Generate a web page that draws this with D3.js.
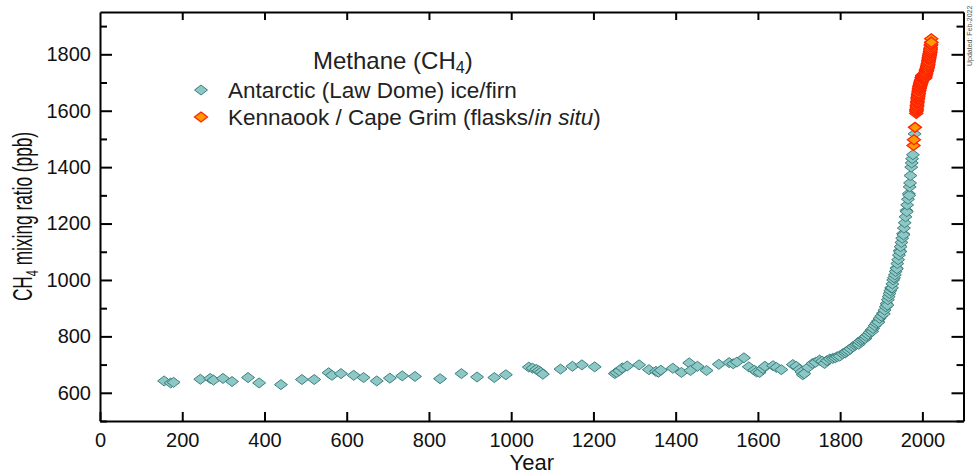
<!DOCTYPE html>
<html>
<head>
<meta charset="utf-8">
<script src="https://cdn.jsdelivr.net/npm/d3@7"></script>
<style>
  html, body { margin: 0; padding: 0; background: #fff; }
  svg { display: block; font-family: Arial, "Liberation Sans", Helvetica, sans-serif; }
</style>
</head>
<body>
<svg id="chart" width="974" height="475"></svg>
<script>
// ---- Data ----
const iceYears = [156,172,179,244,268,276,299,321,360,387,440,491,521,556,564,586,617,641,673,705,735,766,827,879,917,959,987,
  1043,1052,1061,1067,1072,1077,1120,1149,1172,1203,1252,1256,1263,1270,1282,1311,1335,1352,1358,1364,1393,1414,1433,1436,1453,1475,
  1505,1530,1540,1549,1566,1578,1591,1597,1604,1612,1617,1637,1645,1657,1685,1693,1701,1706,1709,1713,1722,1733,1740,1750,1756,1762,
  1768,1775,1782,1788,1793,1799,1806,1812,1815,1820,1825,1831,1836,1840,1843,1847,1851,1855,1859,1863,1868,1872,1876,1880,1884,1888,
  1892,1896,1900,1904,1908,1911,1913,1916,1918,1920,1922,1924,1927,1929,1931,1933,1935,1937,1939,1941,1943,1945,1947,1949,1951,1953,
  1955,1957,1959,1961,1963,1965,1967,1969,1970,1971,1973,1974,1975,1977,1981,
  1845,1861,1878,1893,1906,1915,1926,1938,1946,1954,1962,1968];
const iceCH4 = [642,635,637,648,651,645,651,640,654,635,629,647,647,671,662,668,662,654,642,652,660,658,650,668,656,654,664,
  691,687,683,678,673,666,684,694,699,692,668,672,678,688,695,699,682,676,673,680,687,672,706,679,694,679,
  701,707,703,709,724,692,680,674,672,686,694,696,690,682,700,694,683,674,664,668,690,704,708,716,712,704,
  714,720,722,724,728,730,738,741,746,750,756,763,768,772,776,781,786,790,794,800,806,814,822,828,838,846,
  854,864,872,882,893,905,916,930,941,952,962,972,986,1000,1008,1018,1030,1042,1058,1072,1088,1104,1118,1133,1148,1164,
  1184,1203,1224,1246,1266,1286,1306,1330,1344,1370,1400,1415,1430,1444,1518,
  772,792,818,850,880,911,972,1040,1100,1160,1242,1300];

// Cape Grim archive / flask points
const cgEarlyYears = [1978.5, 1979.5, 1982];
const cgEarlyCH4 = [1477, 1497, 1541];
// Cape Grim in situ record: one row per year, four quarterly values (Q1..Q4)
const cgYears = [1985,1986,1987,1988,1989,1990,1991,1992,1993,1994,1995,1996,1997,1998,1999,2000,2001,2002,2003,
  2004,2005,2006,2007,2008,2009,2010,2011,2012,2013,2014,2015,2016,2017,2018,2019,2020,2021];
const cgQuarterly = [
  [1590,1596,1604,1600],[1604,1610,1619,1614],[1618,1624,1632,1628],[1632,1638,1647,1642],[1643,1649,1657,1652],
  [1652,1658,1666,1662],[1662,1669,1677,1673],[1672,1678,1685,1680],[1678,1683,1690,1686],[1684,1690,1696,1692],
  [1690,1695,1702,1698],[1695,1700,1706,1702],[1698,1703,1709,1706],[1704,1711,1718,1716],[1713,1718,1724,1720],
  [1715,1719,1726,1721],[1714,1718,1725,1720],[1715,1720,1727,1722],[1717,1722,1729,1724],[1716,1721,1728,1722],
  [1714,1719,1726,1721],[1715,1720,1727,1723],[1720,1726,1734,1731],[1728,1734,1742,1738],[1733,1739,1746,1742],
  [1738,1744,1751,1747],[1743,1749,1756,1753],[1749,1755,1762,1759],[1755,1761,1768,1766],[1764,1770,1778,1775],
  [1773,1780,1788,1784],[1782,1787,1795,1791],[1789,1795,1802,1799],[1797,1803,1811,1808],[1806,1812,1820,1818],
  [1818,1825,1833,1832],[1836,1843,1855,1843]];

const xTickValues = [0,200,400,600,800,1000,1200,1400,1600,1800,2000];
const yMajorTicks = [600,800,1000,1200,1400,1600,1800];
const yMinorTicks = [500,700,900,1100,1300,1500,1700,1900];

const titleText = "Methane (CH";
const legendLabels = ["Antarctic (Law Dome) ice/firn", "Kennaook / Cape Grim (flasks/"];

// ---- Layout ----
const svg = d3.select("#chart");
const L = 100, R = 963.5, T = 12, B = 421;
const x = d3.scaleLinear().domain([0, 2100]).range([L, R]);
const y = d3.scaleLinear().domain([500, 1950]).range([B, T]);

const iceFill = "#8dc8c6", iceStroke = "#3c807d";
const cgFill = "#ff9a00", cgStroke = "#ff2400";
const diamond = "M0,-5L6.5,0L0,5L-6.5,0Z";

// ---- Data marks ----
const ice = d3.zip(iceYears, iceCH4).sort((a, b) => a[0] - b[0]);
const cg = d3.zip(cgEarlyYears, cgEarlyCH4);
cgYears.forEach((yr, i) => cgQuarterly[i].forEach((v, q) => cg.push([yr + (q + 0.5) / 4, v])));

svg.append("g").selectAll("path").data(ice).join("path")
  .attr("d", diamond)
  .attr("transform", d => `translate(${x(d[0])},${y(d[1])})`)
  .attr("fill", iceFill).attr("stroke", iceStroke).attr("stroke-width", 1);

svg.append("g").selectAll("path").data(cg).join("path")
  .attr("d", diamond)
  .attr("transform", d => `translate(${x(d[0])},${y(d[1])})`)
  .attr("fill", cgFill).attr("stroke", cgStroke).attr("stroke-width", 1.3);

// ---- Axes ----
function styleAxis(g) {
  g.selectAll("path.domain").attr("stroke", "#000").attr("stroke-width", 2);
  g.selectAll(".tick line").attr("stroke", "#000").attr("stroke-width", 2);
  g.selectAll(".tick text").attr("fill", "#111").style("font-size", "20px")
    .style("font-family", 'Arial, "Liberation Sans", Helvetica, sans-serif');
}

svg.append("g").attr("transform", `translate(0,${B})`)
  .call(d3.axisBottom(x).tickValues(xTickValues).tickFormat(d3.format("d"))
    .tickSize(-9).tickSizeOuter(0).tickPadding(12))
  .call(styleAxis);
svg.append("g").attr("transform", `translate(0,${T})`)
  .call(d3.axisTop(x).tickValues(xTickValues.filter(v => v > 0)).tickFormat("")
    .tickSize(-8).tickSizeOuter(0))
  .call(styleAxis);

svg.append("g").attr("transform", `translate(${L},0)`)
  .call(d3.axisLeft(y).tickValues(yMajorTicks).tickFormat(d3.format("d"))
    .tickSize(-12).tickSizeOuter(0).tickPadding(9))
  .call(styleAxis);
svg.append("g").attr("transform", `translate(${L},0)`)
  .call(d3.axisLeft(y).tickValues(yMinorTicks).tickFormat("").tickSize(-7).tickSizeOuter(0))
  .call(g => g.select("path.domain").remove())
  .call(styleAxis);
svg.append("g").attr("transform", `translate(${R},0)`)
  .call(d3.axisRight(y).tickValues(yMajorTicks).tickFormat("").tickSize(-12).tickSizeOuter(0))
  .call(styleAxis);
svg.append("g").attr("transform", `translate(${R},0)`)
  .call(d3.axisRight(y).tickValues(yMinorTicks).tickFormat("").tickSize(-7).tickSizeOuter(0))
  .call(g => g.select("path.domain").remove())
  .call(styleAxis);

// ---- Axis titles ----
svg.append("text")
  .attr("x", (L + R) / 2).attr("y", 470)
  .attr("text-anchor", "middle").attr("fill", "#111")
  .style("font-size", "22px").text("Year");

const yl = svg.append("text")
  .attr("transform", `translate(31.5,${(T + B) / 2}) rotate(-90) scale(0.64,1)`)
  .attr("text-anchor", "middle").attr("fill", "#111")
  .style("font-size", "27px");
yl.append("tspan").text("CH");
yl.append("tspan").attr("dy", 6).style("font-size", "17px").text("4");
yl.append("tspan").attr("dy", -6).text(" mixing ratio (ppb)");

// ---- Legend ----
const title = svg.append("text").attr("x", 313).attr("y", 68.5)
  .attr("fill", "#222").style("font-size", "24px");
title.append("tspan").text(titleText);
title.append("tspan").attr("dy", 4).style("font-size", "16px").text("4");
title.append("tspan").attr("dy", -4).text(")");

const legendRows = [
  {label: legendLabels[0], fill: iceFill, stroke: iceStroke, sw: 1, cy: 90},
  {label: legendLabels[1], fill: cgFill, stroke: cgStroke, sw: 1.3, cy: 117}
];
legendRows.forEach((r, i) => {
  svg.append("path").attr("d", diamond)
    .attr("transform", `translate(201,${r.cy})`)
    .attr("fill", r.fill).attr("stroke", r.stroke).attr("stroke-width", r.sw);
  const t = svg.append("text").attr("x", 228).attr("y", r.cy + 8)
    .attr("fill", "#222").style("font-size", "22.5px");
  t.append("tspan").text(r.label);
  if (i === 1) {
    t.append("tspan").style("font-style", "italic").text("in situ");
    t.append("tspan").text(")");
  }
});

// ---- Small update note ----
svg.append("text")
  .attr("transform", "translate(972,66) rotate(-90)")
  .attr("fill", "#555").style("font-size", "7px")
  .text("Updated: Feb-2022");
</script>
</body>
</html>
